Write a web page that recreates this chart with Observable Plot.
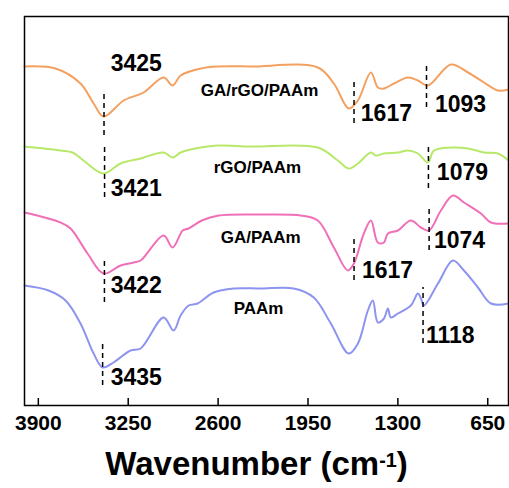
<!DOCTYPE html>
<html>
<head>
<meta charset="utf-8">
<script src="https://cdn.jsdelivr.net/npm/d3@7"></script>
<script src="https://cdn.jsdelivr.net/npm/@observablehq/plot@0.6"></script>
<style>
  body { margin: 0; background: #fff; font-family: "Liberation Sans", Arial, sans-serif; }
  #chart svg { display: block; }
  #xlabel { width: 509px; height: 48px; display: flex; align-items: center; justify-content: center;
            font-weight: bold; font-size: 33px; color: #000; padding-left: 4px; box-sizing: border-box; }
  #xlabel sup { font-size: 0.6em; position: relative; top: -0.2em; }
</style>
</head>
<body>
<div id="chart"></div>
<div id="xlabel">Wavenumber (cm<sup>-1</sup>)</div>
<script>
// Wavenumber (cm-1) and transmittance (a.u., vertically offset)
const wnOrange = [4000,3776,3595,3500,3428,3283,3139,2994,2929,2871,2726,2603,2364,1879,1763,1655,1589,1495,1445,1401,1329,1227,1155,1083,916,793,677,576,500];
const tOrange  = [84.75,84.25,80.5,75.5,72.25,76.25,78.25,82,80,82.5,84.25,84.75,84.75,84.5,80.5,74.25,76.25,83.25,79.5,79.25,80.5,82,81.25,80,85.25,83.25,80.75,78.75,79];

const wnGreen = [4000,3739,3653,3573,3428,3305,3160,2994,2929,2871,2726,2603,2364,1879,1734,1655,1589,1495,1459,1401,1300,1227,1155,1083,1039,916,793,677,576,500];
const tGreen  = [64.75,63.75,63.25,61.25,58,60.5,61.75,63.25,62,63.25,64.5,65,64.75,64.5,61.25,59.25,60.5,63.25,62.5,63,63.25,63.75,63,60.75,63.75,64.5,64.25,63.25,63,61.25];

const wnPink = [4000,3739,3667,3544,3428,3305,3211,3160,2994,2929,2856,2813,2718,2596,2292,2002,1879,1763,1662,1618,1546,1495,1445,1401,1372,1300,1206,1133,1075,989,902,822,699,627,500];
const tPink  = [48.25,45.75,44.25,38,33,35,35.75,36.25,42.5,39.5,43.75,44.25,46.25,47.5,47.75,47.5,46.25,39.5,33.75,35.5,43,46.25,40.75,40.75,43,43.75,46.25,44.5,43.75,48.75,52.5,50.75,48,45.75,45.5];

const wnBlue = [4000,3826,3703,3595,3500,3435,3356,3233,3160,2994,2922,2871,2813,2748,2632,2487,2292,2053,1908,1785,1655,1589,1517,1481,1445,1401,1372,1351,1300,1206,1155,1133,1112,1010,902,822,721,627,500];
const tBlue  = [30,28.75,26.25,20.5,13,9.5,10.75,13.75,14.25,22,18.75,22.5,25,25.5,28.25,29.25,29.25,29.25,27,20.5,13,15.5,23.75,26.25,20.75,21.75,24.25,22,23,25,28,26.75,25,30.5,36.25,33.75,29.5,25.5,25.5];

const seriesNames  = ["GA/rGO/PAAm", "rGO/PAAm", "GA/PAAm", "PAAm"];
const seriesColors = ["#F4A060", "#B8E86A", "#F070B8", "#8C94F0"];
const labelWn = [2726, 2632, 2581, 2487];
const labelT  = [78.75, 59.5, 42, 24.25];

// Peak markers: wavenumber, dashed segment extent, label position
const peakWn    = [3425, 1617, 1093, 3421, 1079, 3422, 1617, 1074, 3435, 1118];
const peakTop   = [78.25, 81.5, 85.75, 65, 65.5, 37, 42, 50, 16.25, 29.5];
const peakBot   = [67.5, 70.5, 74.5, 52, 54.25, 25.75, 31.25, 38.75, 5, 15.5];
const peakLabWn = [3377, 1568, 1032, 3377, 1018, 3377, 1560, 1039, 3377, 1097];
const peakLabT  = [85.5, 73, 75.25, 54.25, 58.25, 30, 33.75, 41.25, 7, 17.5];

const xTicks = [3900, 3250, 2600, 1950, 1300, 650];

const mk = (wn, t, s) => wn.map((w, i) => ({wn: w, t: t[i], s}));
const spectra = [
  ...mk(wnOrange, tOrange, seriesNames[0]),
  ...mk(wnGreen, tGreen, seriesNames[1]),
  ...mk(wnPink, tPink, seriesNames[2]),
  ...mk(wnBlue, tBlue, seriesNames[3])
];
const peaks = peakWn.map((w, i) => ({wn: w, top: peakTop[i], bot: peakBot[i], lx: peakLabWn[i], ly: peakLabT[i]}));
const labels = seriesNames.map((s, i) => ({s, x: labelWn[i], y: labelT[i]}));

const chart = Plot.plot({
  width: 509,
  height: 440,
  marginLeft: 24,
  marginRight: 1,
  marginTop: 16,
  marginBottom: 35,
  style: {fontFamily: "'Liberation Sans', Arial, sans-serif", background: "#fff"},
  x: {domain: [4000, 500]},
  y: {domain: [0, 97.25], axis: null},
  color: {domain: seriesNames, range: seriesColors},
  marks: [
    Plot.line(spectra, {x: "wn", y: "t", z: "s", stroke: "s", strokeWidth: 2, curve: "catmull-rom"}),
    Plot.ruleX(peaks, {x: "wn", y1: "bot", y2: "top", stroke: "#000", strokeWidth: 1.5, strokeDasharray: "5,4"}),
    Plot.text(peaks, {x: "lx", y: "ly", text: d => String(d.wn), textAnchor: "start", fontSize: 23, fontWeight: "bold", fill: "#000"}),
    Plot.text(labels, {x: "x", y: "y", text: "s", textAnchor: "start", fontSize: 17, fontWeight: "bold", fill: "#000"}),
    Plot.axisX({ticks: xTicks, tickSize: -7, tickFormat: () => "", label: null, stroke: "#000", strokeWidth: 1.5}),
    Plot.axisX({ticks: xTicks, tickSize: 0, tickPadding: 10, tickFormat: d => String(d), label: null, fontSize: 21, fontWeight: "bold", fill: "#000"}),
    Plot.frame({stroke: "#000", strokeWidth: 1.5})
  ]
});
document.getElementById("chart").appendChild(chart);
</script>
</body>
</html>
